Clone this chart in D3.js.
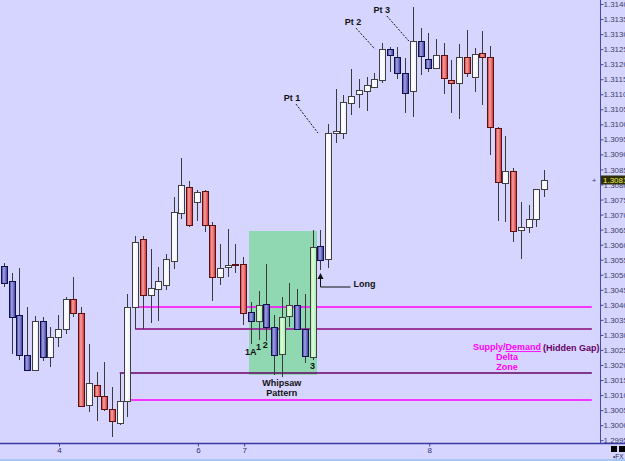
<!DOCTYPE html>
<html>
<head>
<meta charset="utf-8">
<script src="https://cdn.jsdelivr.net/npm/d3@7"></script>
<style>
  body { margin: 0; background: #d5d5ff; }
  svg { display: block; font-family: "Liberation Sans", Arial, sans-serif; }
</style>
</head>
<body>
<div id="chart"></div>
<script>
// OHLC per bar, index 0 = leftmost bar
const opens = [
  1.30529,1.30479,1.30366,1.30233,1.30183,1.30346,1.30227,1.30293,1.30320,1.30419,
  1.30373,1.30067,1.30134,1.30097,1.30054,1.30007,1.30080,1.30393,1.30619,1.30433,
  1.30453,1.30466,1.30546,1.30705,1.30792,1.30742,1.30778,1.30665,1.30493,1.30526,
  1.30536,1.30536,1.30376,1.30346,1.30403,1.30326,1.30237,1.30363,1.30399,1.30320,
  1.30227,1.30596,1.30552,1.30971,1.30971,1.31071,1.31101,1.31111,1.31124,1.31147,
  1.31250,1.31224,1.31171,1.31111,1.31277,1.31217,1.31187,1.31230,1.31147,1.31137,
  1.31224,1.31157,1.31237,1.31224,1.30988,1.30805,1.30845,1.30649,1.30659,1.30685,
  1.30785
];
const highs = [
  1.30539,1.30506,1.30522,1.30393,1.30363,1.30360,1.30326,1.30366,1.30426,1.30493,
  1.30393,1.30270,1.30177,1.30210,1.30127,1.30173,1.30436,1.30629,1.30629,1.30586,
  1.30526,1.30569,1.30758,1.30888,1.30812,1.30782,1.30782,1.30675,1.30602,1.30652,
  1.30602,1.30559,1.30409,1.30446,1.30536,1.30366,1.30426,1.30473,1.30453,1.30436,
  1.30649,1.30649,1.31001,1.31118,1.31098,1.31184,1.31151,1.31157,1.31171,1.31270,
  1.31257,1.31257,1.31221,1.31390,1.31320,1.31304,1.31284,1.31270,1.31214,1.31267,
  1.31314,1.31254,1.31310,1.31260,1.30991,1.30961,1.30855,1.30742,1.30732,1.30785,
  1.30848
];
const lows = [
  1.30459,1.30237,1.30217,1.30180,1.30180,1.30213,1.30193,1.30260,1.30303,1.30360,
  1.30060,1.30044,1.30014,1.30047,1.29961,1.30001,1.30027,1.30320,1.30320,1.30340,
  1.30346,1.30449,1.30519,1.30685,1.30660,1.30679,1.30642,1.30413,1.30466,1.30493,
  1.30506,1.30333,1.30270,1.30283,1.30280,1.30167,1.30160,1.30326,1.30317,1.30207,
  1.30217,1.30516,1.30522,1.30938,1.30951,1.31031,1.31054,1.31044,1.31121,1.31137,
  1.31174,1.31151,1.31038,1.31024,1.31164,1.31174,1.31184,1.31101,1.31038,1.31018,
  1.31157,1.31108,1.31064,1.30898,1.30679,1.30675,1.30609,1.30552,1.30639,1.30659,
  1.30758
];
const closes = [
  1.30473,1.30360,1.30233,1.30183,1.30346,1.30227,1.30293,1.30320,1.30419,1.30373,
  1.30064,1.30140,1.30097,1.30054,1.30014,1.30080,1.30393,1.30609,1.30433,1.30456,
  1.30479,1.30552,1.30709,1.30798,1.30665,1.30775,1.30665,1.30493,1.30522,1.30532,
  1.30532,1.30373,1.30346,1.30399,1.30326,1.30233,1.30360,1.30399,1.30320,1.30230,
  1.30592,1.30549,1.30971,1.30978,1.31074,1.31094,1.31114,1.31131,1.31151,1.31250,
  1.31230,1.31171,1.31104,1.31277,1.31227,1.31187,1.31230,1.31154,1.31137,1.31224,
  1.31171,1.31234,1.31224,1.30991,1.30808,1.30845,1.30645,1.30659,1.30685,1.30785,
  1.30815
];
// bar colour class: w = up, r / b = the two kinds of down bars
const kinds = "bbbbwbwwwr" + "rwrrrwwwrw" + "wwwwrwrrww" + "rrbwbbwwbb" +
              "wbwwwwwwww" + "bbbwbbwrrw" + "rwrrrwrwww" + "w";

// day labels on the time axis (bar index where each day starts)
const dayIdx = [7, 25, 31, 55];
const dayLabels = ["4", "6", "7", "8"];

// price ticks
const priceTicks = d3.range(0, 30).map(k => +(1.2995 + k * 0.0005).toFixed(5));
const lastPrice = 1.30815;

// supply/demand zone lines: level, starting bar
const zoneLevels = [1.30393, 1.30320, 1.30173, 1.30084];
const zoneStart = [17, 17, 15, 16.4];
const zoneEnd = 76.2;

// whipsaw box: bar range and price range
const boxBars = [31.7, 40.5];
const boxPrices = [1.30645, 1.30167];

const W = 625, H = 461;
const svg = d3.select("#chart").append("svg")
  .attr("width", W).attr("height", H);

const defs = svg.append("defs");
function grad(id, edge, mid) {
  const g = defs.append("linearGradient").attr("id", id)
    .attr("x1", "0").attr("x2", "1").attr("y1", "0").attr("y2", "0");
  g.append("stop").attr("offset", "0").attr("stop-color", edge);
  g.append("stop").attr("offset", "0.4").attr("stop-color", mid);
  g.append("stop").attr("offset", "1").attr("stop-color", edge);
}
grad("gr", "#cf2a2a", "#f4a4a4");
grad("gb", "#34349e", "#a4a4e2");
grad("gw", "#eeeefa", "#ffffff");
grad("gg", "#a4e8a4", "#dcffdc");

svg.append("rect").attr("width", W).attr("height", H).attr("fill", "#d5d5ff");

const x = d3.scaleLinear().domain([0, 70]).range([4, 544]);
const y = d3.scaleLinear().domain([1.2995, 1.314]).range([440.2, 4]);

const bars = d3.range(opens.length).map(i => ({
  i, o: opens[i], h: highs[i], l: lows[i], c: closes[i], k: kinds[i]
}));

// whipsaw box
svg.append("rect")
  .attr("x", Math.round(x(boxBars[0])))
  .attr("y", Math.round(y(boxPrices[0])))
  .attr("width", Math.round(x(boxBars[1]) - x(boxBars[0])))
  .attr("height", Math.round(y(boxPrices[1]) - y(boxPrices[0])))
  .attr("fill", "#8fd8b2");

// zone lines
const zoneStyle = [
  { c: "#ff00ff", w: 1.5 },
  { c: "#9a3a9a", w: 2 },
  { c: "#660066", w: 1.5 },
  { c: "#ff00ff", w: 1.5 }
];
svg.append("g").selectAll("line")
  .data(zoneLevels)
  .join("line")
  .attr("x1", (d, i) => x(zoneStart[i]))
  .attr("x2", x(zoneEnd))
  .attr("y1", d => Math.round(y(d)))
  .attr("y2", d => Math.round(y(d)))
  .attr("stroke", (d, i) => zoneStyle[i].c)
  .attr("stroke-width", (d, i) => zoneStyle[i].w);

// candles
const inBox = d => d.i >= boxBars[0] && d.i <= boxBars[1];
const cg = svg.append("g");
cg.selectAll("line.wick")
  .data(bars)
  .join("line")
  .attr("class", "wick")
  .attr("x1", d => Math.round(x(d.i)) + 0.5)
  .attr("x2", d => Math.round(x(d.i)) + 0.5)
  .attr("y1", d => Math.round(y(d.h)))
  .attr("y2", d => Math.round(y(d.l)))
  .attr("stroke", "#3a3a3a").attr("stroke-width", 1);

cg.selectAll("rect.body")
  .data(bars)
  .join("rect")
  .attr("class", "body")
  .attr("x", d => Math.round(x(d.i)) - 2.5)
  .attr("width", 6)
  .attr("y", d => Math.round(y(Math.max(d.o, d.c))) + 0.5)
  .attr("height", d => Math.max(1, Math.round(y(Math.min(d.o, d.c))) - Math.round(y(Math.max(d.o, d.c)))))
  .attr("fill", d => d.k === "r" ? "url(#gr)" : d.k === "b" ? "url(#gb)" : inBox(d) ? "url(#gg)" : "url(#gw)")
  .attr("stroke", d => d.k === "r" ? "#5a1010" : d.k === "b" ? "#10104a" : "#404040")
  .attr("stroke-width", 1);

// right price axis
svg.append("line").attr("x1", 600.5).attr("x2", 600.5).attr("y1", 0).attr("y2", 443)
  .attr("stroke", "#4848a8").attr("stroke-width", 1);
const ya = svg.append("g").attr("transform", "translate(600.5,0)")
  .call(d3.axisRight(y).tickValues(priceTicks).tickFormat(d3.format(".5f")).tickSize(3).tickSizeOuter(0));
ya.select(".domain").remove();
ya.selectAll(".tick line").attr("stroke", "#4848a8");
ya.selectAll(".tick text").attr("x", 3).attr("fill", "#40406a")
  .attr("font-size", 8).attr("font-family", "Liberation Sans, Arial, sans-serif");

// bottom time axis
svg.append("line").attr("x1", 0).attr("x2", W).attr("y1", 443.5).attr("y2", 443.5)
  .attr("stroke", "#3a3aa0").attr("stroke-width", 1.5);
const xa = svg.append("g").attr("transform", "translate(1,443.5)")
  .call(d3.axisBottom(x).tickValues(dayIdx).tickFormat((d, i) => dayLabels[i]).tickSize(3).tickSizeOuter(0));
xa.select(".domain").remove();
xa.selectAll(".tick line").attr("stroke", "#3a3aa0");
xa.selectAll(".tick text").attr("y", 4).attr("fill", "#303070")
  .attr("font-size", 8).attr("font-family", "Liberation Sans, Arial, sans-serif");
svg.append("rect").attr("x", 0).attr("y", 459).attr("width", W).attr("height", 2).attr("fill", "#a6c8f4");

// last price marker
const ly = Math.round(y(lastPrice));
svg.append("rect").attr("x", 601).attr("y", ly - 4.5).attr("width", 24).attr("height", 9)
  .attr("fill", "#2e2e08");
svg.append("text").attr("x", 603).attr("y", ly).attr("dy", "0.35em")
  .attr("font-size", 8).attr("fill", "#f2f25a").text(d3.format(".5f")(lastPrice));
svg.append("text").attr("x", 594).attr("y", ly).attr("dy", "0.35em").attr("text-anchor", "middle")
  .attr("font-size", 8).attr("fill", "#404080").text("+");

// corner squares + FX tag
svg.append("rect").attr("x", 611).attr("y", 446).attr("width", 6).attr("height", 6).attr("fill", "#000");
svg.append("rect").attr("x", 619).attr("y", 446).attr("width", 6).attr("height", 6).attr("fill", "#000");
svg.append("text").attr("x", 613).attr("y", 459).attr("font-size", 6.5).attr("fill", "#303060").text("\u2022FX");

// annotations
const ann = svg.append("g").attr("font-weight", "bold").attr("font-size", 9).attr("fill", "#111");

// Pt 1/2/3 with dashed leaders, anchored to the bar's close
const pts = [
  { t: "Pt 1", i: 42, lx: -36, ly: -35, sx: -32, sy: -29, ex: -10 },
  { t: "Pt 2", i: 49, lx: -29, ly: -27, sx: -26, sy: -21, ex: -7 },
  { t: "Pt 3", i: 53, lx: -31, ly: -31, sx: -26, sy: -25, ex: -4 }
];
pts.forEach(p => {
  const cx = x(p.i), cy = y(closes[p.i]);
  ann.append("text").attr("x", cx + p.lx).attr("y", cy + p.ly).attr("dy", "0.35em")
    .attr("text-anchor", "middle").text(p.t);
  ann.append("line").attr("x1", cx + p.sx).attr("y1", cy + p.sy).attr("x2", cx + p.ex).attr("y2", cy)
    .attr("stroke", "#111").attr("stroke-width", 1).attr("stroke-dasharray", "2,1.5");
});

// whipsaw point numbers under the bars' lows
const nums = [
  { t: "1A", i: 32, dx: 0, dy: 8 },
  { t: "1", i: 33, dx: 0, dy: 7 },
  { t: "2", i: 34, dx: -1, dy: 4 },
  { t: "3", i: 40, dx: 0, dy: 6 }
];
nums.forEach(n => {
  ann.append("text").attr("x", x(n.i) + n.dx).attr("y", y(lows[n.i]) + n.dy).attr("dy", "0.35em")
    .attr("text-anchor", "middle").text(n.t);
});

const wx = x(36);
ann.append("text").attr("x", wx).attr("y", y(boxPrices[1]) + 8).attr("dy", "0.35em")
  .attr("text-anchor", "middle").text("Whipsaw");
ann.append("text").attr("x", wx).attr("y", y(boxPrices[1]) + 18).attr("dy", "0.35em")
  .attr("text-anchor", "middle").text("Pattern");

// Long arrow under bar 41
const lx = Math.round(x(41)) + 0.5, lyTop = Math.round(y(lows[41])) + 3;
ann.append("path")
  .attr("d", `M${lx},${lyTop + 14} L${lx},${lyTop + 4} M${lx},${lyTop + 14} L${lx + 30},${lyTop + 14}`)
  .attr("stroke", "#111").attr("stroke-width", 1).attr("fill", "none");
ann.append("path")
  .attr("d", `M${lx},${lyTop} L${lx - 3},${lyTop + 6} L${lx + 3},${lyTop + 6} Z`)
  .attr("fill", "#111");
ann.append("text").attr("x", lx + 33).attr("y", lyTop + 11).attr("dy", "0.35em").text("Long");

// supply / demand note
const sx = 507, sy = 347;
const sd = ann.append("text").attr("x", sx).attr("y", sy).attr("dy", "0.35em")
  .attr("text-anchor", "middle").attr("fill", "#ff00ff");
sd.append("tspan").text("Supply/");
sd.append("tspan").attr("text-decoration", "underline").text("Demand");
ann.append("text").attr("x", 543).attr("y", sy + 1).attr("dy", "0.35em")
  .attr("fill", "#660066").text("(Hidden Gap)");
ann.append("text").attr("x", sx).attr("y", sy + 10).attr("dy", "0.35em")
  .attr("text-anchor", "middle").attr("fill", "#ff00ff").text("Delta");
ann.append("text").attr("x", sx).attr("y", sy + 20).attr("dy", "0.35em")
  .attr("text-anchor", "middle").attr("fill", "#ff00ff").text("Zone");
</script>
</body>
</html>
